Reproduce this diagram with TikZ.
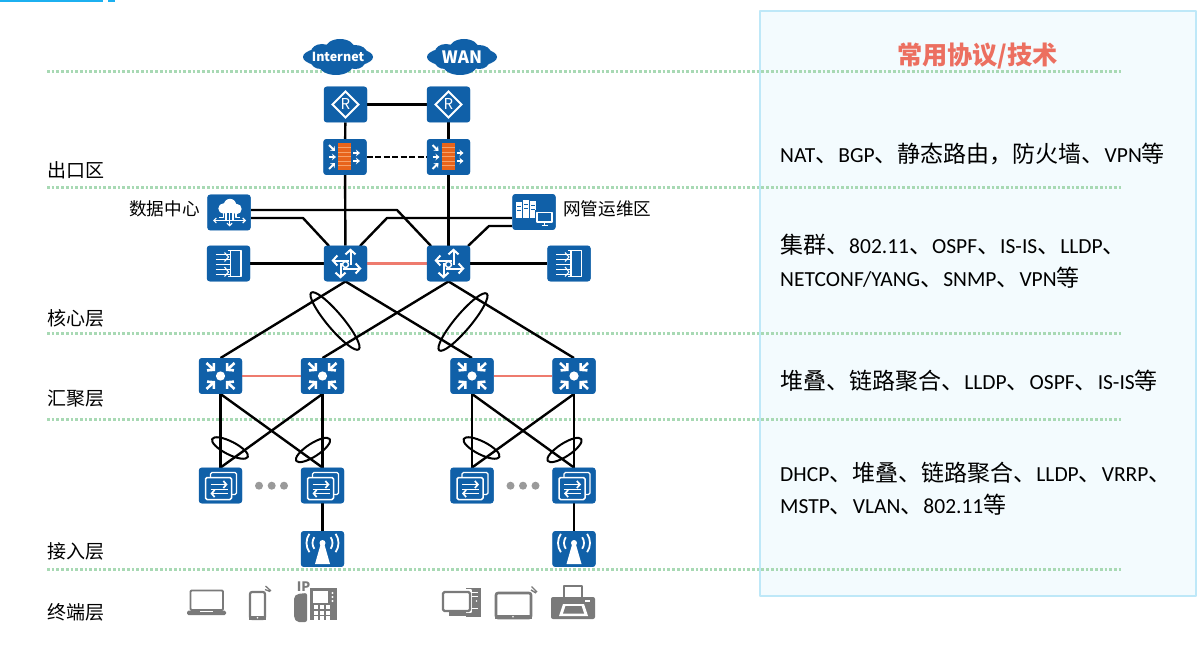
\documentclass[tikz,border=0pt]{standalone}
\usepackage{fontspec}
\setmainfont{Carlito}
\newfontfamily\zhfont{Noto Sans CJK SC}
\newfontfamily\zhwide[Scale=1.07]{Noto Sans CJK SC}
\newcommand{\zh}[1]{{\zhwide #1}}
\usetikzlibrary{arrows.meta}
\definecolor{devblue}{HTML}{1060A8}
\definecolor{linkred}{HTML}{EE7B6E}
\definecolor{zonegreen}{HTML}{A8D9B4}
\definecolor{paneledge}{HTML}{BEE8F8}
\definecolor{panelfill}{HTML}{F3FBFE}
\definecolor{termgrey}{HTML}{7A7A7A}
\definecolor{dotgrey}{HTML}{9A9A9A}
\definecolor{brick}{HTML}{E8641B}
\definecolor{brickline}{HTML}{F6A26A}
\definecolor{topbar}{HTML}{1CB0F0}
\definecolor{titlered}{HTML}{EC6F60}
\tikzset{
  x=1pt,y=-1pt,
  dev/.style={fill=devblue,rounded corners=3pt,minimum width=43pt,minimum height=35.5pt,inner sep=0pt},
  link/.style={line width=2.4pt,black},
  hot/.style={line width=2.4pt,linkred},
  zone/.style={line width=3pt,zonegreen,dash pattern=on 2.7pt off 2pt},
  bundle/.style={line width=2pt,black},
  cloudtext/.style={inner sep=0pt,text=white},
  zonelabel/.style={anchor=west,inner sep=0pt,font=\zhfont\fontsize{19}{20}\selectfont},
  sitelabel/.style={anchor=west,inner sep=0pt,font=\zhfont\fontsize{17.6}{20}\selectfont},
  proto/.style={anchor=base west,inner sep=0pt,font=\fontsize{21.5}{22}\selectfont},
  netcloud/.pic={
    \fill[devblue] (0,0) ellipse[x radius=35pt,y radius=11pt];
    \fill[devblue] (2,-8) ellipse[x radius=15pt,y radius=10pt];
    \fill[devblue] (-16,-5) ellipse[x radius=11pt,y radius=8pt];
    \fill[devblue] (17,-4) ellipse[x radius=12pt,y radius=8pt];
    \fill[devblue] (-2,8) ellipse[x radius=17pt,y radius=10pt];
    \fill[devblue] (-17,5) ellipse[x radius=10pt,y radius=7pt];
    \fill[devblue] (17,5) ellipse[x radius=10pt,y radius=7pt];
  },
  routerglyph/.pic={
    \draw[white,line width=1.9pt,line join=miter] (-13,0)--(0,-13)--(13,0)--(0,13)--cycle;
    \node[white,inner sep=0pt,font=\zhfont\fontsize{15}{15}\selectfont] (t) at (0,0) {R};
  },
  firewallglyph/.pic={
    \fill[brick] (-7,-14) rectangle (6,13.5);
    \foreach \yy in {-9.5,-5,-0.5,4,8.5}
      \draw[brickline,line width=.8pt] (-7,\yy)--(6,\yy);
    \foreach \xa/\ya/\xb/\yb in {-16/-12/-10/-6,-16/0/-9/0,-16/12/-10/6,8/-4/15/-4,8/4/15/4}
      \draw[white,line width=1.8pt,-{Stealth[length=4pt,width=6.5pt]}] (\xa,\ya)--(\xb,\yb);
  },
  coreglyph/.pic={
    \foreach \xa/\ya/\xb/\yb in {5/1/5/-15,3/-3/-14/-3,-3/5/16/5,-5/-1/-5/15}
      \draw[white,line width=2pt,-{Straight Barb[length=4.5pt,width=10pt]}] (\xa,\ya)--(\xb,\yb);
    \draw[white,fill=devblue,line width=1.5pt] (0,1) circle[radius=3pt];
  },
  aggglyph/.pic={
    \foreach \sx/\sy in {-1/-1,1/-1,-1/1,1/1}
      \draw[white,line width=2.6pt,-{Straight Barb[length=4.5pt,width=10pt]}] (14*\sx,13*\sy)--(5.5*\sx,5*\sy);
    \fill[white] (0,0) circle[radius=4.6pt];
  },
  accessglyph/.pic={
    \draw[white,line width=1.3pt,rounded corners=1.5pt] (-10,-13) rectangle (16,9);
    \draw[white,fill=devblue,line width=1.5pt,rounded corners=1.5pt] (-15,-8) rectangle (11,14);
    \draw[white,line width=1.7pt,-{Straight Barb[length=3pt,width=7pt]}] (-10,-1)--(7,-1);
    \draw[white,line width=1.7pt,-{Straight Barb[length=3pt,width=7pt]}] (7,8)--(-10,8);
    \draw[white,line width=1pt] (-10,3.5)--(7,3.5);
  },
  apglyph/.pic={
    \fill[white] (0,-6) circle[radius=3pt];
    \fill[white] (-1.5,-6)--(1.5,-6)--(7.5,15)--(-7.5,15)--cycle;
    \foreach \rr in {10,16}{
      \draw[white,line width=1.8pt] (0,-6) ++(145:\rr pt) arc[start angle=145,end angle=215,radius=\rr pt];
      \draw[white,line width=1.8pt] (0,-6) ++(-35:\rr pt) arc[start angle=-35,end angle=35,radius=\rr pt];
    }
  },
  lbglyph/.pic={
    \draw[white,line width=1.5pt] (-1,-13)--(12.5,-13)--(12.5,13)--(-1,13);
    \draw[white,line width=1.5pt] (2,-13)--(2,13);
    \foreach \yy in {-9,-4,1,6,11}
      \draw[white,line width=1.4pt] (-13,\yy)--(2,\yy);
    \draw[white,line width=1.1pt] (-4,-11)--(0,-6.5)--(-4,-2) (-4,3.5)--(0,8.5)--(-4,13);
  },
  dcglyph/.pic={
    \fill[white] (-5.5,-4) circle[radius=5.2pt] (1,-7.5) circle[radius=6.2pt] (7.5,-3.5) circle[radius=5.2pt];
    \fill[white] (-6,-4) rectangle (8,1);
    \draw[white,line width=1.1pt,{Straight Barb[length=2.5pt,width=5pt]}-{Straight Barb[length=2.5pt,width=5pt]}] (-16,8)--(17,8);
    \draw[white,line width=1.1pt,-{Straight Barb[length=2.5pt,width=5pt]}] (0.5,1)--(0.5,14);
    \draw[white,line width=1.1pt] (-3,1)--(-3,8) (4,1)--(4,8) (-5.5,1)--(-5.5,5)--(-10,5) (7,1)--(7,5)--(11,5);
  },
  nmsglyph/.pic={
    \foreach \xa/\ya in {-18/-10,-11/-12,-4/-11}{
      \fill[white] (\xa,\ya) rectangle (\xa+6,6);
      \draw[devblue,line width=.8pt] (\xa+1,\ya+4)--(\xa+5,\ya+4) (\xa+1,\ya+8)--(\xa+5,\ya+8);
    }
    \fill[devblue] (0.5,-2) rectangle (20,14);
    \draw[white,line width=1.4pt] (3,0.5) rectangle (18,10);
    \draw[white,line width=1.4pt] (10.5,10)--(10.5,13.5) (7.5,13.5)--(13.5,13.5);
  },
}
\begin{document}
\begin{tikzpicture}[line join=round]
\useasboundingbox (0,0) rectangle (1202,647);
\fill[white] (0,0) rectangle (1202,647);

% page accent along the upper edge
\fill[topbar] (0,0) rectangle (103,1.6);
\fill[topbar] (108,0) rectangle (115,1.6);

% protocol panel
\draw[paneledge,fill=panelfill,line width=2pt] (759.5,11.5) rectangle (1196,596);

% zone separators
\foreach \yy in {72,188,333,419,569}
  \draw[zone] (47,\yy)--(1122,\yy);

% clouds with their labels
\pic at (338,57) {netcloud};
\pic at (462,57) {netcloud};
\node[cloudtext,font=\zhfont\fontsize{12.5}{13}\selectfont\bfseries] (inet) at (338,57) {Internet};
\node[cloudtext,font=\zhfont\fontsize{17}{17}\selectfont\bfseries] (wan) at (462,57) {WAN};

% devices
\node[dev] (r1) at (345.5,104.5) {};
\node[dev] (r2) at (448.5,104.5) {};
\node[dev] (f1) at (345,157) {};
\node[dev] (f2) at (448.5,157) {};
\node[dev] (dc) at (229,212.5) {};
\node[dev] (nms) at (534,212) {};
\node[dev] (lb1) at (228.5,263.5) {};
\node[dev] (lb2) at (569,263.5) {};
\node[dev] (c1) at (345.5,263.5) {};
\node[dev] (c2) at (448.5,263.5) {};
\node[dev] (a1) at (220.5,376) {};
\node[dev] (a2) at (322.5,376) {};
\node[dev] (a3) at (472,376) {};
\node[dev] (a4) at (574,376) {};
\node[dev] (s1) at (220.5,485.5) {};
\node[dev] (s2) at (322.5,485.5) {};
\node[dev] (s3) at (472,485.5) {};
\node[dev] (s4) at (574,485.5) {};
\node[dev] (p1) at (322.5,549) {};
\node[dev] (p2) at (574,549) {};

% links
\draw[link] (r1)--(r2);
\draw[link] (r1)--(f1);
\draw[link] (r2)--(f2);
\draw[link,dash pattern=on 6pt off 2.5pt] (f1)--(f2);
\draw[link] (f1)--(c1);
\draw[link] (f2)--(c2);
\draw[hot] (c1)--(c2);
\draw[link] (lb1)--(c1);
\draw[link] (c2)--(lb2);
\coordinate (dcA) at (251,210);
\coordinate (dcAk) at (397,210);
\coordinate (c2in) at (431,246);
\coordinate (dcB) at (251,218);
\coordinate (dcBk) at (303,218);
\coordinate (c1in) at (329,246);
\coordinate (nmsA) at (512,218);
\coordinate (nmsAk) at (387,218);
\coordinate (c1out) at (360,246);
\coordinate (nmsB) at (512,226);
\coordinate (nmsBk) at (489,226);
\coordinate (c2out) at (468,246);
\draw[link] (dcA)--(dcAk)--(c2in);
\draw[link] (dcB)--(dcBk)--(c1in);
\draw[link] (nmsA)--(nmsAk)--(c1out);
\draw[link] (nmsB)--(nmsBk)--(c2out);
\draw[link] (c1.south)--(a1.north);
\draw[link] (c1.south)--(a3.north);
\draw[link] (c2.south)--(a2.north);
\draw[link] (c2.south)--(a4.north);
\draw[hot] (a1)--(a2);
\draw[hot] (a3)--(a4);
\foreach \u/\v in {a1/s1,a1/s2,a2/s1,a2/s2,a3/s3,a3/s4,a4/s3,a4/s4}
  \draw[link] (\u.south)--(\v.north);
\draw[link] (s2)--(p1);
\draw[link] (s4)--(p2);

% link-bundle rings
\draw[bundle,rotate around={-50:(335,321)}] (335,321) ellipse[x radius=37pt,y radius=8pt];
\draw[bundle,rotate around={50:(463,322)}] (463,322) ellipse[x radius=37pt,y radius=8pt];
\foreach \dx in {0,251.5}{
  \draw[bundle,rotate around={-27:(230+\dx,448)}] (230+\dx,448) ellipse[x radius=20pt,y radius=6.5pt];
  \draw[bundle,rotate around={33:(313+\dx,450)}] (313+\dx,450) ellipse[x radius=20pt,y radius=6.5pt];
}

% boxes are repainted so that links stop at their borders
\foreach \n in {r1,r2,f1,f2,dc,nms,lb1,lb2,c1,c2,a1,a2,a3,a4,s1,s2,s3,s4,p1,p2}
  \fill[devblue,rounded corners=3pt] (\n.north west) rectangle (\n.south east);

% device glyphs
\pic (gr1) at (r1) {routerglyph};
\pic (gr2) at (r2) {routerglyph};
\pic at (f1) {firewallglyph};
\pic at (f2) {firewallglyph};
\pic at (dc) {dcglyph};
\pic at (nms) {nmsglyph};
\pic at (lb1) {lbglyph};
\pic at (lb2) {lbglyph};
\pic at (c1) {coreglyph};
\pic at (c2) {coreglyph};
\foreach \n in {a1,a2,a3,a4} \pic at (\n) {aggglyph};
\foreach \n in {s1,s2,s3,s4} \pic at (\n) {accessglyph};
\pic at (p1) {apglyph};
\pic at (p2) {apglyph};

% ellipsis between access switches
\foreach \xx in {259,271.7,284,510.5,523,535.5}
  \fill[dotgrey] (\xx,485.7) circle[radius=4pt];

% terminals: laptop
\draw[termgrey,line width=1.8pt,rounded corners=1pt] (190.5,590.5) rectangle (223,610);
\fill[termgrey,rounded corners=1.5pt] (187,610.5) rectangle (226,615);
\fill[white] (200,611) rectangle (213,612.3);
% smartphone
\draw[termgrey,line width=2.2pt,rounded corners=2pt] (250,592) rectangle (265,619);
\fill[termgrey] (249,616) rectangle (266,620);
\fill[white] (257.5,617.8) circle[radius=.9pt];
\draw[termgrey,line width=1.3pt] (265,589.5)--(270,591.5) (265.5,586)--(271,591);
% IP phone
\fill[termgrey,rounded corners=2pt] (294,597) -- (297,594) -- (307,593) -- (307,622) -- (297,622) -- (294,618) -- cycle;
\fill[termgrey] (310,588) rectangle (337,620);
\fill[white] (313,591) rectangle (328,603);
\foreach \xx in {313.5,319.5,325.5}
  \foreach \yy in {605,610.5,615.5}
    \fill[white] (\xx,\yy) rectangle (\xx+4.4,\yy+4);
\foreach \yy in {593,597,601}
  \fill[white] (332.5,\yy) circle[radius=1.1pt];
\node[termgrey,inner sep=0pt,font=\zhfont\fontsize{13}{13}\selectfont\bfseries] (iplabel) at (303.5,587) {IP};
% desktop computer
\fill[termgrey] (466,588) rectangle (481,617);
\draw[white,line width=.6pt] (470,592)--(478,592) (470,596)--(478,596) (470,608)--(478,608);
\fill[white] (476.5,601) circle[radius=.9pt];
\draw[white,fill=white,line width=2pt] (441,590) rectangle (471,612);
\draw[termgrey,line width=2.4pt,rounded corners=1.5pt] (443,592) rectangle (470,611);
\fill[termgrey] (449,612) rectangle (466,616);
% tablet
\draw[termgrey,line width=2.6pt,rounded corners=2pt] (496,593) rectangle (531,618);
\fill[termgrey] (495,614.5) rectangle (532,619);
\fill[white] (513,616.8) circle[radius=.9pt];
\draw[termgrey,line width=1.4pt] (531,590)--(536,593) (531.5,586.5)--(537,592);
% printer
\draw[termgrey,line width=1.8pt] (564,597) -- (564,586) -- (582,586) -- (582,597);
\fill[termgrey,rounded corners=2pt] (551,597) rectangle (595,619);
\fill[white] (585,600) rectangle (590,602);
\fill[white] (563,604) -- (584,604) -- (588,616) -- (559,616) -- cycle;
\fill[termgrey] (565.5,606) -- (581.5,606) -- (584,613.5) -- (563,613.5) -- cycle;

% zone and site labels
\node[zonelabel] (zone1) at (47,170) {出口区};
\node[zonelabel] (zone2) at (47,318) {核心层};
\node[zonelabel] (zone3) at (47,399) {汇聚层};
\node[zonelabel] (zone4) at (47,551) {接入层};
\node[zonelabel] (zone5) at (47,612) {终端层};
\node[sitelabel] (dclabel) at (129,209) {数据中心};
\node[sitelabel] (nmslabel) at (563,209) {网管运维区};

% protocol column
\node[inner sep=0pt,text=titlered,font=\zhfont\fontsize{25.2}{26}\selectfont\bfseries] (title) at (977.5,56) {常用协议/技术};
\node[proto] (pa) at (780,163) {NAT\zh{、}BGP\zh{、静态路由，防火墙、}VPN\zh{等}};
\node[proto] (pb1) at (780,254) {\zh{集群、}802.11\zh{、}OSPF\zh{、}IS-IS\zh{、}LLDP\zh{、}};
\node[proto] (pb2) at (780,286) {NETCONF/YANG\zh{、}SNMP\zh{、}VPN\zh{等}};
\node[proto] (pc) at (780,389) {\zh{堆叠、链路聚合、}LLDP\zh{、}OSPF\zh{、}IS-IS\zh{等}};
\node[proto] (pd1) at (780,481) {DHCP\zh{、堆叠、链路聚合、}LLDP\zh{、}VRRP\zh{、}};
\node[proto] (pd2) at (780,513) {MSTP\zh{、}VLAN\zh{、}802.11\zh{等}};
\end{tikzpicture}
\end{document}
